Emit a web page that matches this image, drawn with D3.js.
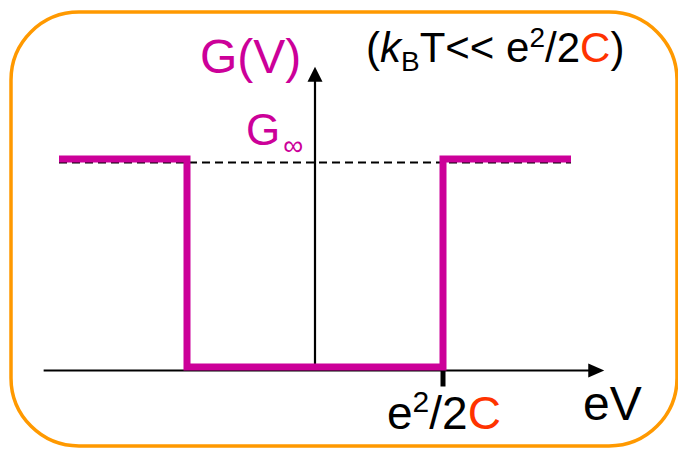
<!DOCTYPE html>
<html>
<head>
<meta charset="utf-8">
<script src="https://cdn.jsdelivr.net/npm/d3@7/dist/d3.min.js"></script>
<style>
  html, body { margin: 0; padding: 0; background: #fff; }
  svg { display: block; }
  text { font-family: "Liberation Sans", Arial, sans-serif; }
</style>
</head>
<body>
<script>
// Conductance step G(V) of a single-electron box, bias in units of e^2/2C
const stepBias = [-2, -1, -1, 1, 1, 2];   // eV / (e^2/2C)
const stepG    = [ 1,  1,  0, 0, 1, 1];   // G / G_inf
const gInfLevel = [1];
const gInfSpan  = [-2, 2];
const biasAxisSpan = [-2.12, 2.26];
const gAxisTop = 1.46;
const biasTicks = [1];

const W = 678, H = 449;
const MAGENTA = "#CC0099", ORANGE = "#FF9900", RED = "#FF3300";

const svg = d3.select("body").append("svg")
  .attr("width", W).attr("height", H);

const x = d3.scaleLinear().domain([-2, 2]).range([59, 571]);
const y = d3.scaleLinear().domain([0, 1]).range([370.5, 162.5]);

// rounded frame
svg.append("rect")
  .attr("x", 11).attr("y", 12)
  .attr("width", 666).attr("height", 434)
  .attr("rx", 68).attr("ry", 68)
  .attr("fill", "none")
  .attr("stroke", ORANGE).attr("stroke-width", 3.5);

// G_inf reference level
svg.selectAll("line.ginf").data(gInfLevel).join("line")
  .attr("class", "ginf")
  .attr("x1", x(gInfSpan[0])).attr("x2", x(gInfSpan[1]))
  .attr("y1", d => y(d)).attr("y2", d => y(d))
  .attr("stroke", "#000").attr("stroke-width", 2)
  .attr("stroke-dasharray", "8,5");

// axes
svg.append("line")
  .attr("x1", x(biasAxisSpan[0])).attr("x2", x(biasAxisSpan[1]) - 14)
  .attr("y1", y(0)).attr("y2", y(0))
  .attr("stroke", "#000").attr("stroke-width", 2.2);
svg.append("path")
  .attr("d", d3.line()([[x(biasAxisSpan[1]), y(0)], [x(biasAxisSpan[1]) - 16, y(0) - 7], [x(biasAxisSpan[1]) - 16, y(0) + 7]]) + "Z")
  .attr("fill", "#000");

svg.append("line")
  .attr("x1", x(0)).attr("x2", x(0))
  .attr("y1", y(0)).attr("y2", y(gAxisTop) + 14)
  .attr("stroke", "#000").attr("stroke-width", 2.2);
svg.append("path")
  .attr("d", d3.line()([[x(0), y(gAxisTop)], [x(0) - 7.5, y(gAxisTop) + 15], [x(0) + 7.5, y(gAxisTop) + 15]]) + "Z")
  .attr("fill", "#000");

// tick mark at e^2/2C
svg.selectAll("line.tick").data(biasTicks).join("line")
  .attr("class", "tick")
  .attr("x1", d => x(d)).attr("x2", d => x(d))
  .attr("y1", y(0)).attr("y2", y(0) + 16)
  .attr("stroke", "#000").attr("stroke-width", 5);

// conductance staircase, sitting on its reference lines
const pts = stepBias.map((b, i) => [x(b), y(stepG[i])]);
svg.append("path")
  .attr("d", d3.line()(pts))
  .attr("transform", "translate(0,-3.5)")
  .attr("fill", "none")
  .attr("stroke", MAGENTA).attr("stroke-width", 7)
  .attr("stroke-linejoin", "miter").attr("stroke-linecap", "butt");

// labels
svg.append("text")
  .attr("x", 200).attr("y", 73)
  .attr("font-size", 48).attr("fill", MAGENTA)
  .text("G(V)");

const ginf = svg.append("text")
  .attr("x", 246).attr("y", 145)
  .attr("font-size", 44).attr("fill", MAGENTA);
ginf.append("tspan").text("G");
ginf.append("tspan").attr("font-size", 28).attr("dy", 10).attr("dx", 3).text("∞");

const cond = svg.append("text")
  .attr("x", 366).attr("y", 62)
  .attr("font-size", 42).attr("fill", "#000");
cond.append("tspan").text("(");
cond.append("tspan").attr("font-style", "italic").text("k");
cond.append("tspan").attr("font-size", 28).attr("dy", 9).text("B");
cond.append("tspan").attr("dy", -9).text("T<< e");
cond.append("tspan").attr("font-size", 28).attr("dy", -15).text("2");
cond.append("tspan").attr("dy", 15).text("/2");
cond.append("tspan").attr("fill", RED).text("C");
cond.append("tspan").text(")");

const tickLab = svg.append("text")
  .attr("x", 387).attr("y", 429)
  .attr("font-size", 46).attr("fill", "#000");
tickLab.append("tspan").text("e");
tickLab.append("tspan").attr("font-size", 30).attr("dy", -17).text("2");
tickLab.append("tspan").attr("dy", 17).text("/2");
tickLab.append("tspan").attr("fill", RED).text("C");

svg.append("text")
  .attr("x", 583).attr("y", 420)
  .attr("font-size", 48).attr("fill", "#000")
  .text("eV");
</script>
</body>
</html>
